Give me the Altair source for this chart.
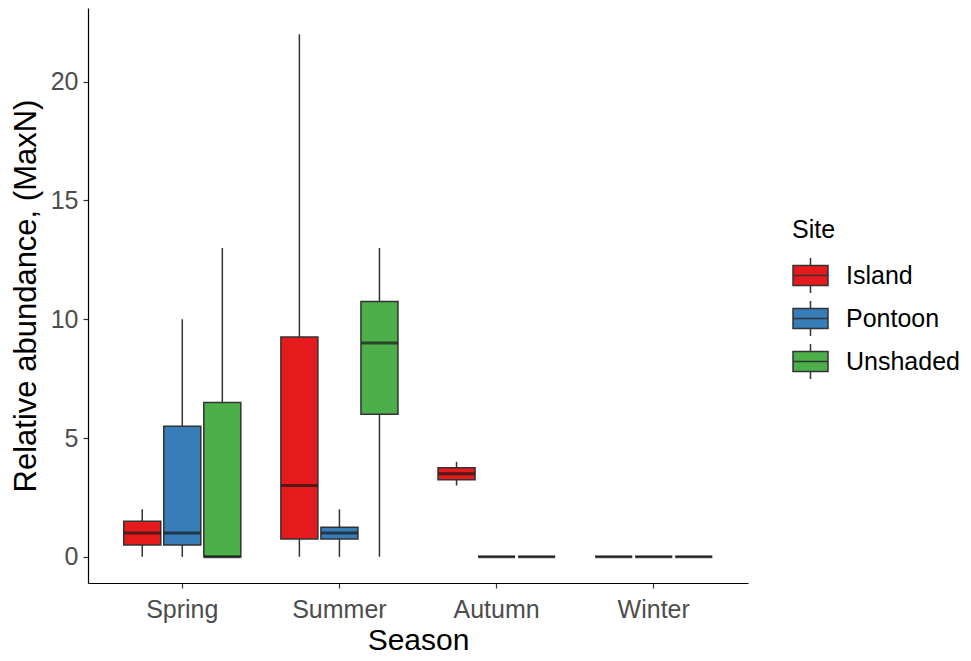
import altair as alt
import pandas as pd

seasons = ["Spring", "Summer", "Autumn", "Winter"]
sites = ["Island", "Pontoon", "Unshaded"]
colors = ["#E41A1C", "#377EB8", "#4DAF4A"]

# rows: seasons, columns: sites (Island, Pontoon, Unshaded)
lower = [[0, 0, 0], [0, 0, 0], [3, 0, 0], [0, 0, 0]]
q1 = [[0.5, 0.5, 0], [0.75, 0.75, 6], [3.25, 0, 0], [0, 0, 0]]
median = [[1, 1, 0], [3, 1, 9], [3.5, 0, 0], [0, 0, 0]]
q3 = [[1.5, 5.5, 6.5], [9.25, 1.25, 10.75], [3.75, 0, 0], [0, 0, 0]]
upper = [[2, 10, 13], [22, 2, 13], [4, 0, 0], [0, 0, 0]]

rows = []
for i, s in enumerate(seasons):
    for j, site in enumerate(sites):
        rows.append({"Season": s, "Site": site, "lower": lower[i][j], "q1": q1[i][j],
                     "median": median[i][j], "q3": q3[i][j], "upper": upper[i][j]})
df = pd.DataFrame(rows)

FONT = "Liberation Sans"

x = alt.X("Season:N", sort=seasons,
          scale=alt.Scale(paddingOuter=0.1, paddingInner=0),
          axis=alt.Axis(title="Season", labelAngle=0, labelPadding=9, titlePadding=3))
xo = alt.XOffset("Site:N", sort=sites, scale=alt.Scale(paddingOuter=0.5, paddingInner=0.075))
yscale = alt.Scale(domain=[-1.1, 23.1], nice=False, zero=False)
yaxis = alt.Axis(title="Relative abundance, (MaxN)", values=[0, 5, 10, 15, 20],
                 labelPadding=5, titlePadding=8)

base = alt.Chart(df)

whisk = base.mark_rule(color="#333333", strokeWidth=1.5).encode(
    x=x, xOffset=xo,
    y=alt.Y("lower:Q", scale=yscale, axis=yaxis),
    y2="upper:Q",
)

box = base.mark_bar(stroke="#333333", strokeWidth=1.5).encode(
    x=x, xOffset=xo,
    y=alt.Y("q1:Q", scale=yscale, axis=yaxis),
    y2="q3:Q",
    color=alt.Color("Site:N", scale=alt.Scale(domain=sites, range=colors),
                    legend=alt.Legend(title="Site", orient="none", legendX=704, legendY=210,
                                      symbolType="M-1,-0.57H1V0.57H-1Z M-1,0H1 M0,-0.57V-1 M0,0.57V1",
                                      symbolSize=1225, symbolStrokeColor="#333333",
                                      symbolStrokeWidth=1.5, labelOffset=17, rowPadding=2,
                                      titlePadding=14)),
)

med = base.mark_tick(orient="horizontal", size=37, thickness=3, color="#1a1a1a").encode(
    x=x, xOffset=xo,
    y=alt.Y("median:Q", scale=yscale, axis=yaxis),
)

chart = alt.layer(whisk, box, med).properties(
    width=660, height=575,
    autosize=alt.AutoSizeParams(type="none"),
    padding={"left": 88, "top": 8, "right": 223, "bottom": 78},
    background="white",
).configure_view(stroke=None).configure_axis(
    grid=False, domainColor="black", domainWidth=1.2, tickColor="#333333", tickWidth=1.2,
    tickSize=5, labelColor="#4D4D4D", labelFontSize=25, labelFont=FONT,
    titleFont=FONT, titleFontSize=30, titleFontWeight="normal", titleColor="black",
).configure_axisY(titleFontSize=31).configure_legend(
    titleFont=FONT, labelFont=FONT, titleFontSize=25, labelFontSize=25,
    titleFontWeight="normal", titleColor="black", labelColor="black",
)

chart.save("out.html", embed_options={"renderer": "svg", "actions": False})
